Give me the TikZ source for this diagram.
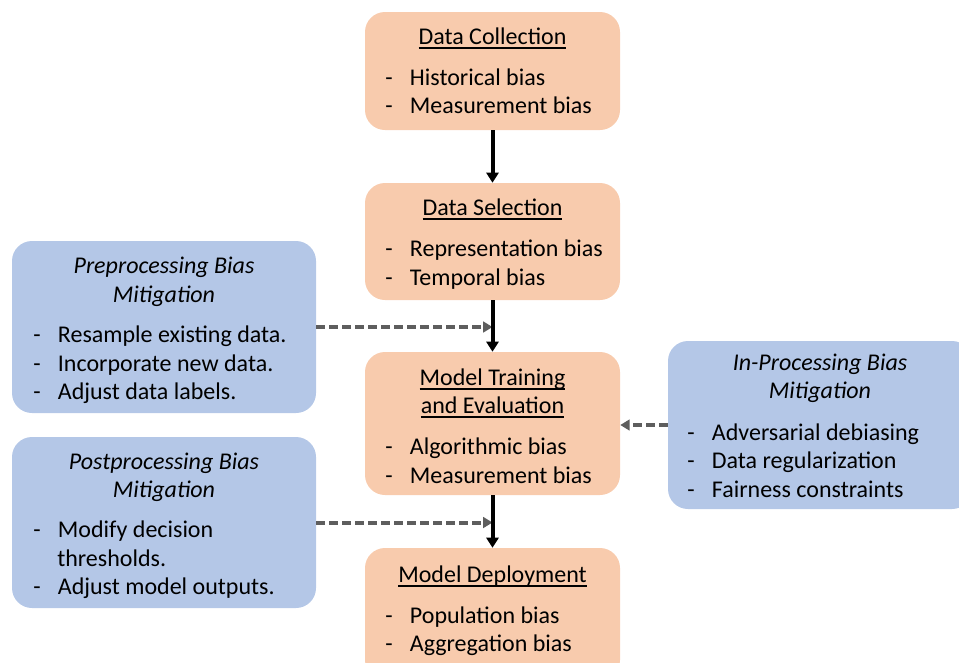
\documentclass[tikz,border=0pt]{standalone}
\usepackage{fontspec}
\setmainfont{Carlito}
\usetikzlibrary{arrows.meta,fit}
\definecolor{stageorange}{HTML}{F8CBAD}
\definecolor{mitigblue}{HTML}{B4C7E7}
\definecolor{arrowgray}{HTML}{5E5E5E}
\newcommand{\dashitem}[1]{\makebox[18.5pt][l]{-}#1}
\newcommand{\ulined}[1]{\setbox0\hbox{#1}\rlap{\rule[-3.6pt]{\wd0}{1.2pt}}\box0}
\tikzset{
  stage/.style={fill=stageorange, rounded corners=15pt, inner sep=0pt},
  mitig/.style={fill=mitigblue, rounded corners=15pt, inner sep=0pt},
  txt/.style={anchor=base west, inner sep=0pt, font=\fontsize{18pt}{21.5pt}\selectfont},
  ttl/.style={anchor=base, inner sep=0pt, font=\fontsize{18pt}{21.5pt}\selectfont},
  flow/.style={line width=3pt, -{Triangle[length=7.5pt,width=9pt]}},
  mitigflow/.style={line width=3pt, arrowgray, dash pattern=on 6.75pt off 3pt,
    -{Triangle[length=7pt,width=8pt]}}
}

\begin{document}
\begin{tikzpicture}[x=0.75pt, y=-0.75pt]
  \useasboundingbox (0,0) rectangle (959,662);
  % Pipeline stages
  \node[stage, fit={(365,12) (620,130)}] (dc) {};
  \node[ttl] (dc-t) at (492.5,44) {\ulined{Data Collection}};
  \node[txt] (dc-1) at (385,85) {\dashitem{Historical bias}};
  \node[txt] (dc-2) at (385,113) {\dashitem{Measurement bias}};

  \node[stage, fit={(365,183) (620,300)}] (ds) {};
  \node[ttl] (ds-t) at (492.5,215) {\ulined{Data Selection}};
  \node[txt] (ds-1) at (385,256) {\dashitem{Representation bias}};
  \node[txt] (ds-2) at (385,285) {\dashitem{Temporal bias}};

  \node[stage, fit={(365,352) (620,495)}] (mt) {};
  \node[ttl] (mt-t1) at (492.5,385) {\ulined{Model Training}};
  \node[ttl] (mt-t2) at (492.5,413) {\ulined{and Evaluation}};
  \node[txt] (mt-1) at (385,454) {\dashitem{Algorithmic bias}};
  \node[txt] (mt-2) at (385,483) {\dashitem{Measurement bias}};

  \node[stage, fit={(365,548) (620,680)}] (md) {};
  \node[ttl] (md-t) at (492.5,582) {\ulined{Model Deployment}};
  \node[txt] (md-1) at (385,623) {\dashitem{Population bias}};
  \node[txt] (md-2) at (385,651) {\dashitem{Aggregation bias}};

  % Mitigation boxes
  \node[mitig, fit={(12,241) (316,413)}] (pre) {};
  \node[ttl] (pre-t1) at (164,273) {\textit{Preprocessing Bias}};
  \node[ttl] (pre-t2) at (164,302) {\textit{Mitigation}};
  \node[txt] (pre-1) at (33,342) {\dashitem{Resample existing data.}};
  \node[txt] (pre-2) at (33,371) {\dashitem{Incorporate new data.}};
  \node[txt] (pre-3) at (33,399) {\dashitem{Adjust data labels.}};

  \node[mitig, fit={(12,437) (316,608)}] (post) {};
  \node[ttl] (post-t1) at (164,469) {\textit{Postprocessing Bias}};
  \node[ttl] (post-t2) at (164,497) {\textit{Mitigation}};
  \node[txt] (post-1) at (33,537) {\dashitem{Modify decision}};
  \node[txt] (post-1b) at (57,566) {thresholds.};
  \node[txt] (post-2) at (33,594) {\dashitem{Adjust model outputs.}};

  \node[mitig, fit={(668,341) (972,509)}] (inp) {};
  \node[ttl] (inp-t1) at (820,370) {\textit{In-Processing Bias}};
  \node[ttl] (inp-t2) at (820,398) {\textit{Mitigation}};
  \node[txt] (inp-1) at (687,440) {\dashitem{Adversarial debiasing}};
  \node[txt] (inp-2) at (687,468) {\dashitem{Data regularization}};
  \node[txt] (inp-3) at (687,497) {\dashitem{Fairness constraints}};

  % Connectors
  \draw[mitigflow] (pre.east) -- (pre.east -| ds.south);
  \draw[mitigflow] (post.east) -- (post.east -| mt.south);
  \draw[mitigflow] (inp.west) -- (inp.west -| mt.east);
  \draw[flow] (dc.south) -- (ds.north);
  \draw[flow] (ds.south) -- (mt.north);
  \draw[flow] (mt.south) -- (md.north);
\end{tikzpicture}
\end{document}
